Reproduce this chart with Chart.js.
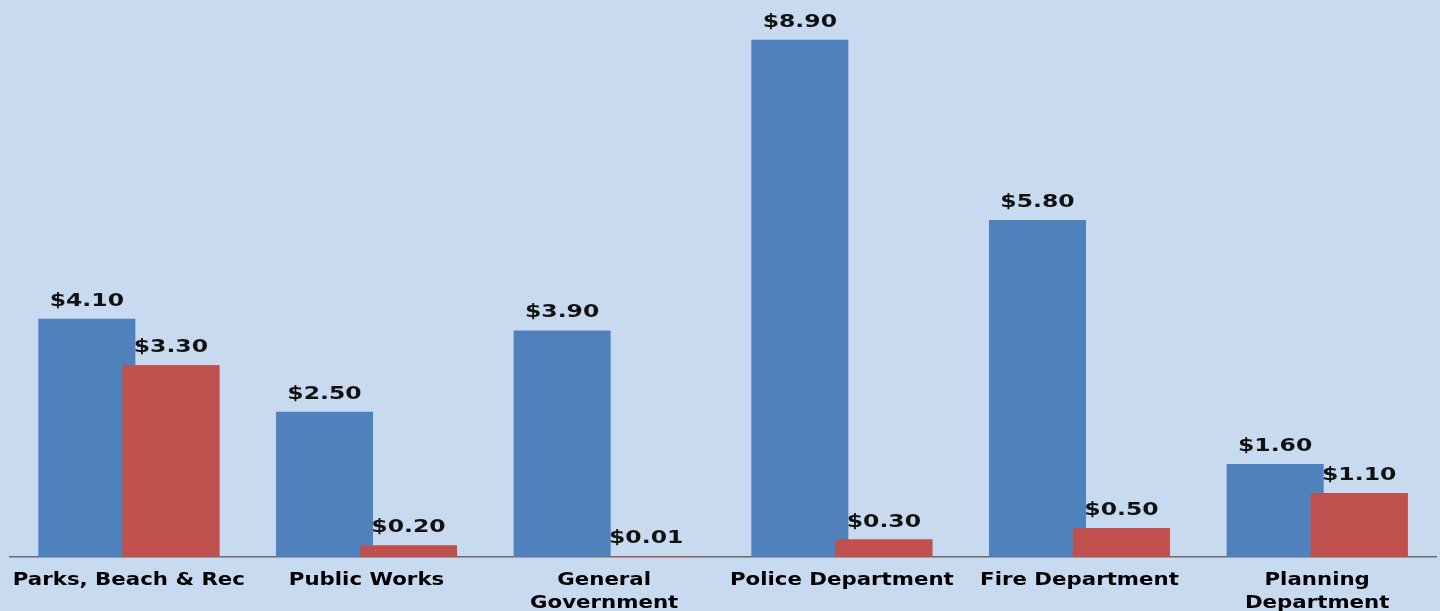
<!DOCTYPE html>
<html>
<head>
<meta charset="utf-8">
<script src="https://cdn.jsdelivr.net/npm/chart.js@4/dist/chart.umd.min.js"></script>
<style>
  html, body { margin: 0; padding: 0; background: #c8daef; }
  #wrap { width: 1440px; height: 611px; }
</style>
</head>
<body>
<div id="wrap"><canvas id="chart"></canvas></div>
<script>
// ====== DATA ======
const categories = [
  "Parks, Beach & Rec",
  "Public Works",
  ["General", "Government"],
  "Police Department",
  "Fire Department",
  ["Planning", "Department"]
];
const blueValues = [4.10, 2.50, 3.90, 8.90, 5.80, 1.60];
const redValues = [3.30, 0.20, 0.01, 0.30, 0.50, 1.10];

const FONT = "'DejaVu Sans', Verdana, sans-serif";
const STRETCH = 1.27; // text in the original is drawn wide

function wideText(ctx, text, x, y) {
  ctx.save();
  ctx.translate(x, y);
  ctx.scale(STRETCH, 1);
  ctx.fillText(text, 0, 0);
  ctx.restore();
}

// red bars sit on top of the blue ones, then value + category labels
const labelsPlugin = {
  id: "labelsPlugin",
  afterDatasetsDraw(chart) {
    const ctx = chart.ctx;
    chart.getDatasetMeta(1).data.forEach(b => b.draw(ctx));

    ctx.save();
    ctx.fillStyle = "#111";
    ctx.textAlign = "center";

    // values
    ctx.font = "bold 18.5px " + FONT;
    ctx.textBaseline = "alphabetic";
    chart.data.datasets.forEach((ds, i) => {
      chart.getDatasetMeta(i).data.forEach((bar, j) => {
        wideText(ctx, "$" + ds.data[j].toFixed(2), bar.x, bar.y - 13);
      });
    });

    // categories
    const xs = chart.scales.x;
    const bottom = chart.chartArea.bottom;
    ctx.font = "bold 16.8px " + FONT;
    ctx.textBaseline = "middle";
    ctx.fillStyle = "#000";
    categories.forEach((c, i) => {
      const lines = Array.isArray(c) ? c : [c];
      const x = xs.getPixelForTick(i);
      lines.forEach((t, k) => wideText(ctx, t, x, bottom + 24 + k * 23));
    });
    ctx.restore();
  }
};

new Chart(document.getElementById("chart"), {
  type: "bar",
  data: {
    labels: categories,
    datasets: [
      { data: blueValues, backgroundColor: "#4f81bd" },
      { data: redValues, backgroundColor: "#c0504d" }
    ]
  },
  options: {
    responsive: true,
    maintainAspectRatio: false,
    animation: false,
    layout: { padding: { left: 10, right: 4, top: 5, bottom: 0 } },
    plugins: { legend: { display: false }, tooltip: { enabled: false } },
    datasets: { bar: { categoryPercentage: 0.707, barPercentage: 1.155 } },
    scales: {
      x: {
        grid: { display: false, drawTicks: false },
        border: { display: true, color: "#6b6b6b", width: 1.5 },
        ticks: { display: false },
        afterFit: s => { s.height = 54; }
      },
      y: {
        display: false,
        min: 0,
        max: 9.5
      }
    }
  },
  plugins: [labelsPlugin]
});
</script>
</body>
</html>
